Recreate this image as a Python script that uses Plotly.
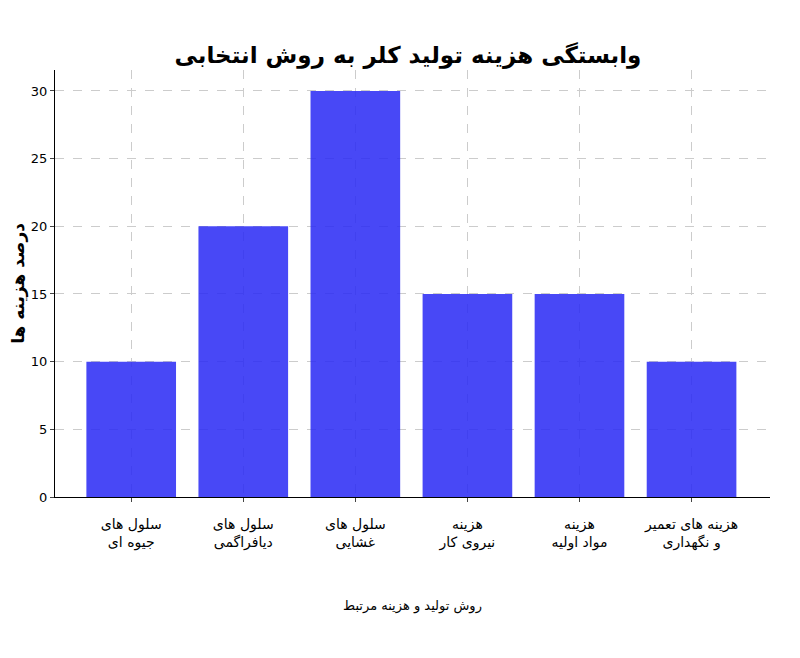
import plotly.graph_objects as go

categories = ["سلول های<br>جیوه ای", "سلول های<br>دیافراگمی", "سلول های<br>غشایی",
              "هزینه<br>نیروی کار", "هزینه<br>مواد اولیه", "هزینه های تعمیر<br>و نگهداری"]
values = [10, 20, 30, 15, 15, 10]
y_ticks = [0, 5, 10, 15, 20, 25, 30]

fig = go.Figure(go.Bar(x=list(range(len(categories))), y=values, width=0.8,
                       marker=dict(color="rgba(40,40,245,0.85)", line=dict(width=0))))
fig.update_layout(
    width=800, height=658, paper_bgcolor="white", plot_bgcolor="white",
    margin=dict(l=47, r=38, t=62, b=169, autoexpand=False),
    font=dict(family="DejaVu Sans", color="black"),
    title=dict(text="<b>وابستگی هزینه تولید کلر به روش انتخابی</b>", x=0.5, xanchor="center",
               y=0.928, yanchor="middle", font=dict(size=23)),
    showlegend=False,
)
fig.update_xaxes(tickvals=list(range(len(categories))), ticktext=categories, range=[-0.68, 5.7],
                 automargin=False, ticklabelstandoff=10,
                 showline=True, linecolor="black", linewidth=1, ticks="outside", ticklen=4,
                 showgrid=True, gridcolor="#cccccc", griddash="dash", gridwidth=0.8, tickfont=dict(size=14),
                 title=dict(text="روش تولید و هزینه مرتبط", font=dict(size=13), standoff=50))
fig.update_yaxes(tickvals=y_ticks, range=[0, 31.55], showline=True, linecolor="black", linewidth=1,
                 automargin=False,
                 ticks="outside", ticklen=4, showgrid=True, gridcolor="#cccccc", griddash="dash", gridwidth=0.8,
                 tickfont=dict(size=13), zeroline=False,
                 title=dict(text="<b>درصد هزینه ها</b>", font=dict(size=17), standoff=12))
fig.write_html("out.html")
